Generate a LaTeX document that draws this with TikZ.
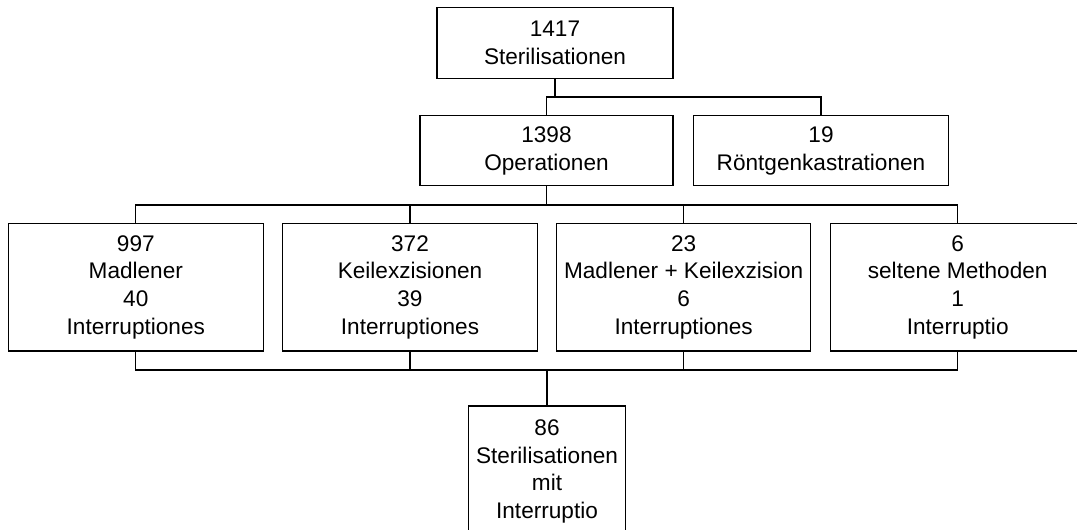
\documentclass[tikz,border=0pt]{standalone}
\usepackage{fontspec}
\setmainfont{Liberation Sans}
\begin{document}
\begin{tikzpicture}[x=1pt,y=-1pt,
  box/.style={draw=black,line width=1.2pt,fill=white,inner sep=0pt,align=center,
    font=\fontsize{22.6}{27.7}\selectfont},
  conn/.style={draw=black,line width=1.2pt}]
\useasboundingbox (0,0) rectangle (1077,530);
\begin{scope}
\clip (0,0) rectangle (1077,530);
\node[box,minimum width=236pt,minimum height=71pt] (top) at (555,42.8) {1417\\Sterilisationen};
\node[box,minimum width=253pt,minimum height=70pt] (op) at (546.5,150.7) {1398\\Operationen};
\node[box,minimum width=255pt,minimum height=70pt] (roe) at (821,150.7) {19\\Röntgenkastrationen};
\node[box,minimum width=255pt,minimum height=127.7pt] (b1) at (135.8,287.2) {997\\Madlener\\40\\Interruptiones};
\node[box,minimum width=255pt,minimum height=127.7pt] (b2) at (410,287.2) {372\\Keilexzisionen\\39\\Interruptiones};
\node[box,minimum width=254pt,minimum height=127.7pt] (b3) at (683.7,287.2) {23\\Madlener + Keilexzision\\6\\Interruptiones};
\node[box,minimum width=254pt,minimum height=127.7pt] (b4) at (957.7,287.2) {6\\seltene Methoden\\1\\Interruptio};
\node[box,minimum width=157.4pt,minimum height=131pt] (bot) at (547,471.5) {86\\Sterilisationen\\mit\\Interruptio};
\coordinate (j1) at (555,97);
\coordinate (j2) at (546.5,205);
\coordinate (j3) at (547,370);
\draw[conn] (top.south) -- (j1);
\draw[conn] (op.north) |- (j1);
\draw[conn] (roe.north) |- (j1);
\draw[conn] (op.south) -- (j2);
\draw[conn] (b1.north) |- (j2);
\draw[conn] (b2.north) |- (j2);
\draw[conn] (b3.north) |- (j2);
\draw[conn] (b4.north) |- (j2);
\draw[conn] (b1.south) |- (j3);
\draw[conn] (b2.south) |- (j3);
\draw[conn] (b3.south) |- (j3);
\draw[conn] (b4.south) |- (j3);
\draw[conn] (bot.north) -- (j3);
\end{scope}
\end{tikzpicture}
\end{document}
